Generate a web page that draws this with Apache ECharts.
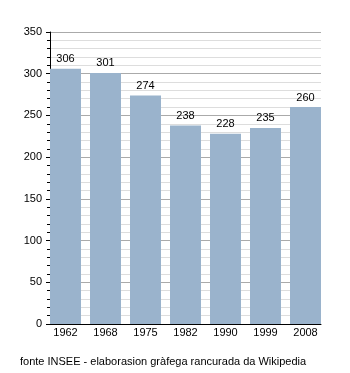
<!DOCTYPE html>
<html><head><meta charset="utf-8">
<script src="https://cdn.jsdelivr.net/npm/echarts@6/dist/echarts.min.js"></script>
<style>html,body{margin:0;padding:0;background:#fff}#c{width:350px;height:373px}</style>
</head><body><div id="c"></div>
<script>
const categories = ['1962','1968','1975','1982','1990','1999','2008'];
const population = [306, 301, 274, 238, 228, 235, 260];
const footer = 'fonte INSEE - elaborasion gràfega rancurada da Wikipedia';
const chart = echarts.init(document.getElementById('c'), null, {renderer:'canvas'});
const font = 'Liberation Sans, Arial, sans-serif';
chart.setOption({
  animation:false,
  backgroundColor:'#fff',
  grid:[
    {left:50,right:29,top:32,bottom:49,containLabel:false},
    {left:45.5,right:24.5,top:32,bottom:49,containLabel:false}
  ],
  graphic:[{type:'text',left:20,top:356,style:{text:footer,font:'11px '+font,fill:'#000'}}],
  xAxis:[
    {type:'value',gridIndex:0,min:0,max:1,
      axisLine:{show:true,onZero:false,lineStyle:{color:'#000',width:1}},
      axisTick:{show:false},axisLabel:{show:false},splitLine:{show:false},z:5},
    {type:'category',gridIndex:1,data:categories,
      axisLine:{show:false},
      axisTick:{show:false},
      axisLabel:{color:'#000',fontFamily:font,fontSize:11,margin:3}}
  ],
  yAxis:[
    {type:'value',gridIndex:0,min:0,max:350,interval:50,
      axisLine:{show:true,lineStyle:{color:'#000'}},
      axisTick:{show:true,length:4,lineStyle:{color:'#000'}},
      minorTick:{show:true,splitNumber:5,length:3,lineStyle:{color:'#000'}},
      splitLine:{show:true,lineStyle:{color:'#aaa'}},
      minorSplitLine:{show:true,lineStyle:{color:'#ddd'}},
      axisLabel:{color:'#000',fontFamily:font,fontSize:11,margin:8}},
    {type:'value',gridIndex:1,min:0,max:350,show:false}
  ],
  series:[{type:'bar',xAxisIndex:1,yAxisIndex:1,data:population,barCategoryGap:'22.5%',
    itemStyle:{color:'#9ab3cc'},
    label:{show:true,position:'top',color:'#000',fontFamily:font,fontSize:11,distance:4}}]
});
</script></body></html>
